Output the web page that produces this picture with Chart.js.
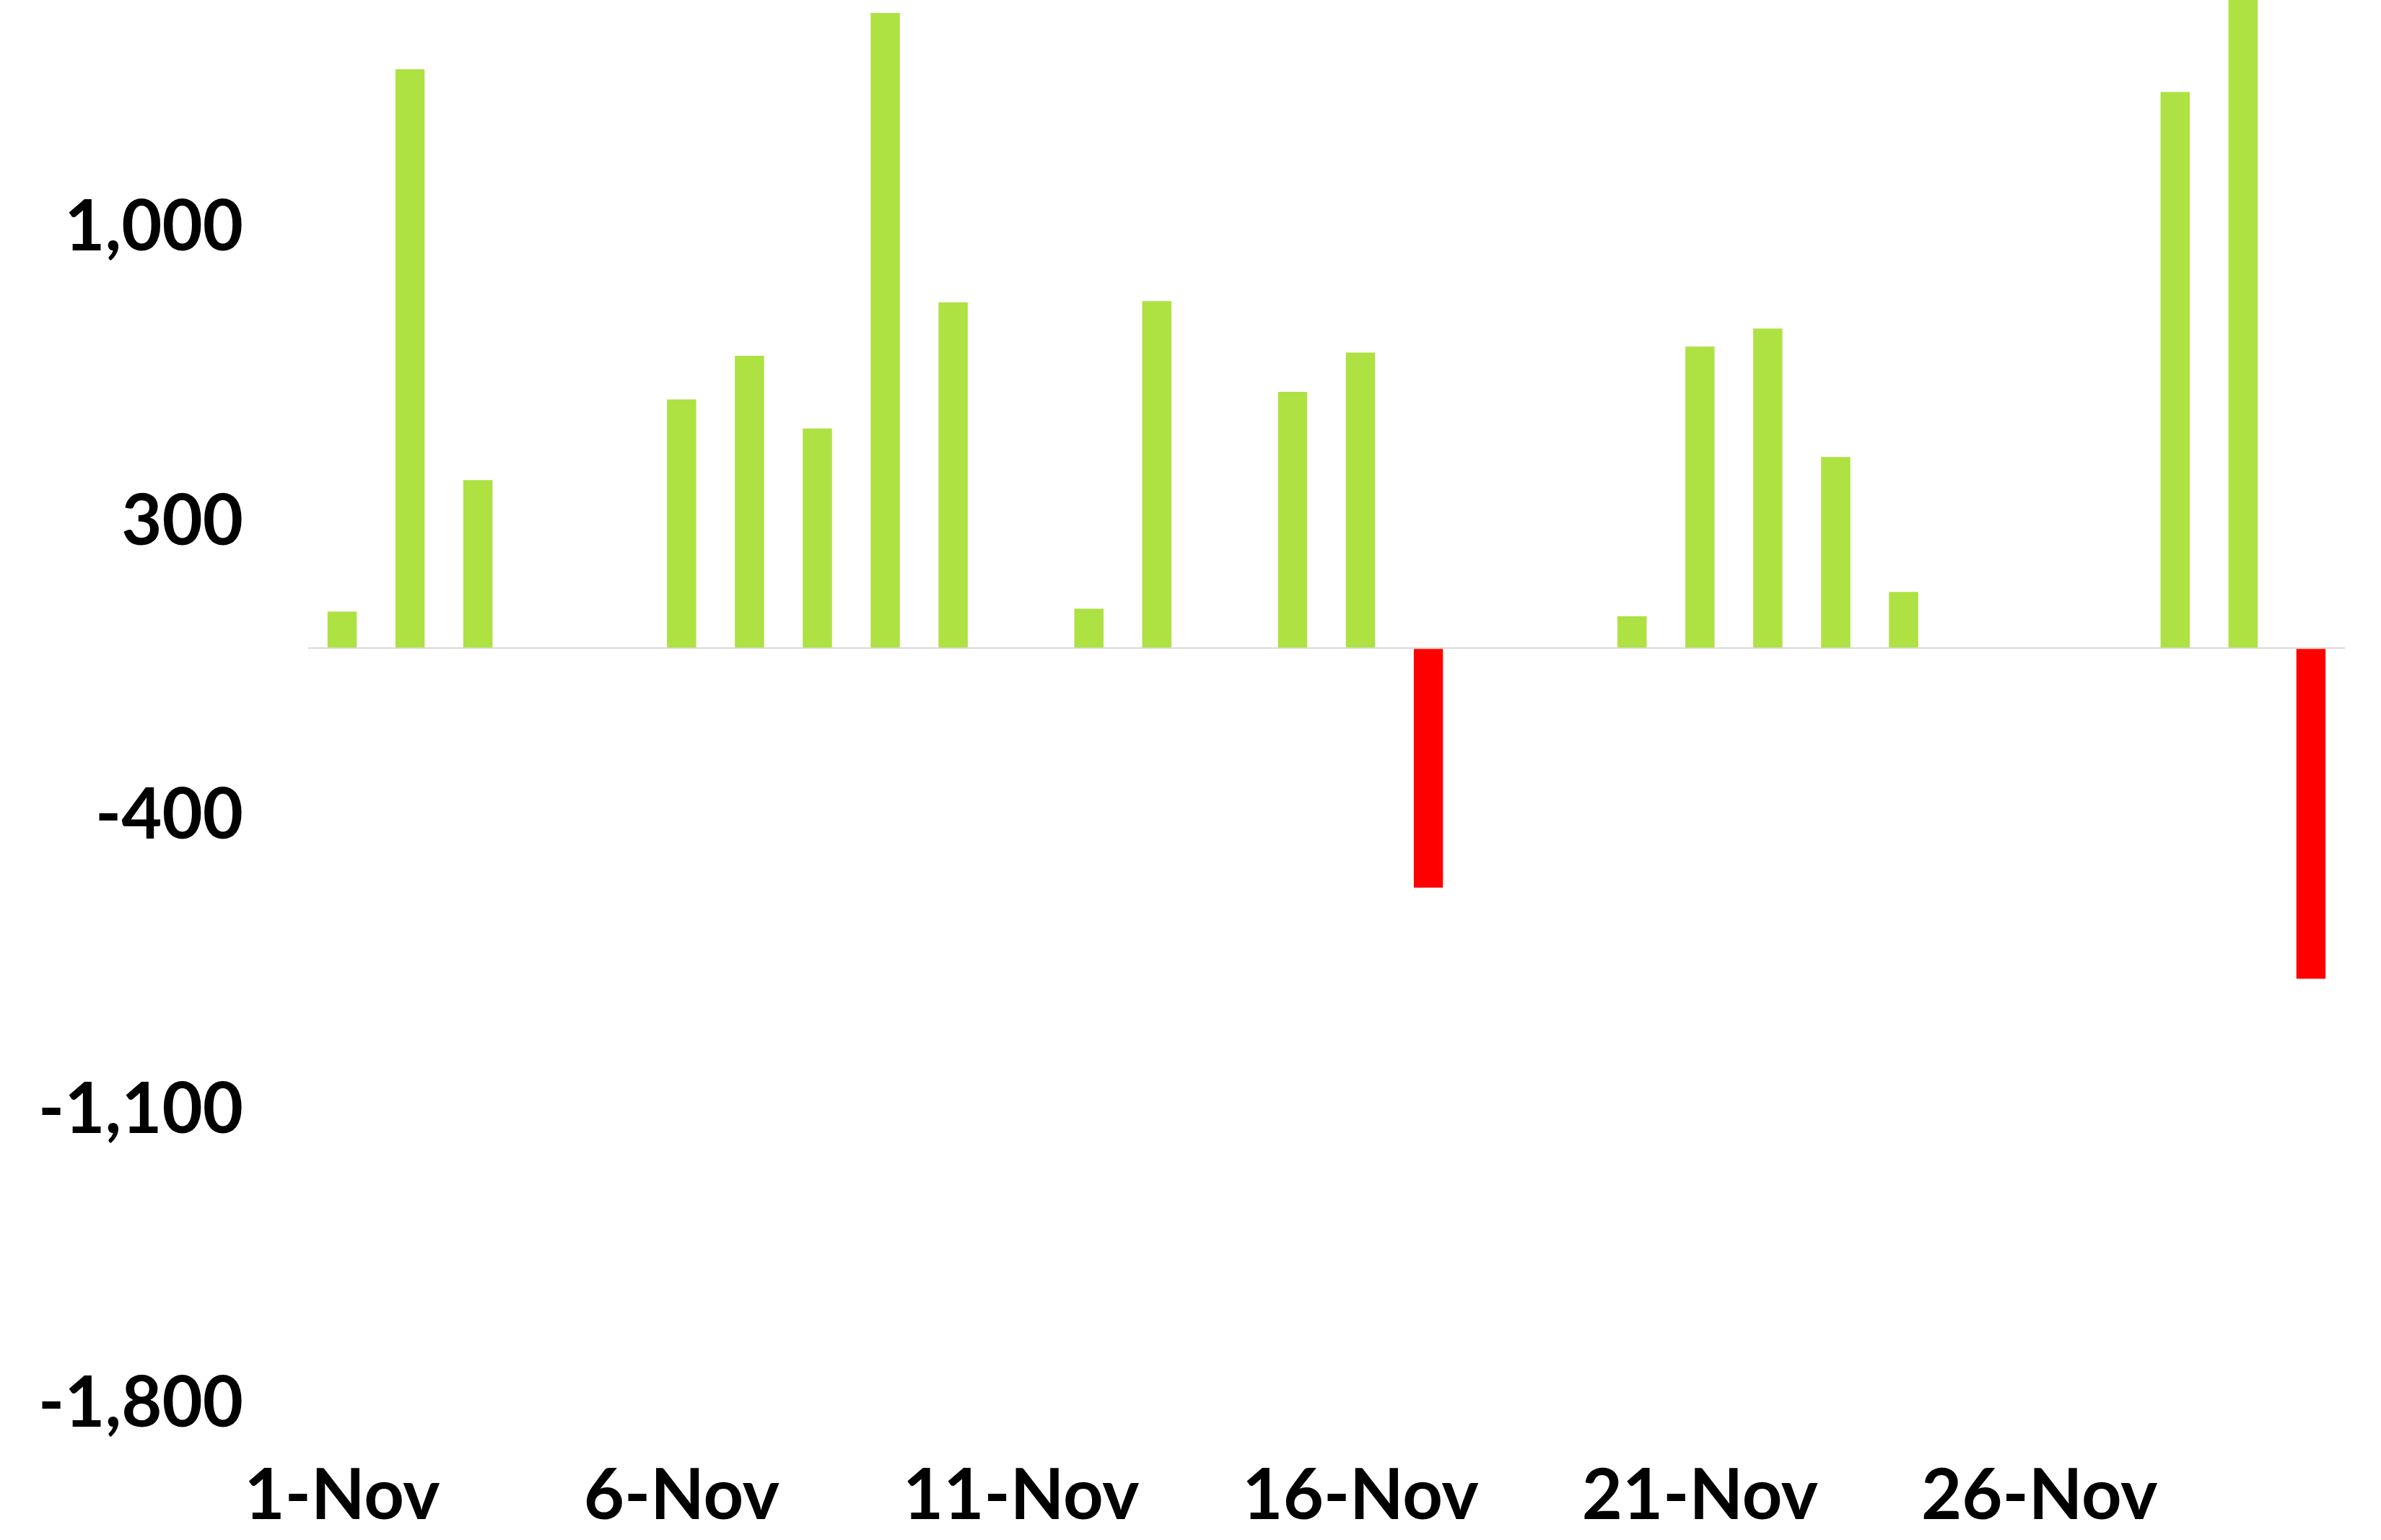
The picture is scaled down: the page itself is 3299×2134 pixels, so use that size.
<!DOCTYPE html>
<html>
<head>
<meta charset="utf-8">
<script src="https://cdn.jsdelivr.net/npm/chart.js@4/dist/chart.umd.min.js"></script>
<style>
  html, body { margin: 0; padding: 0; background: #fff; }
  #wrap { width: 3299px; height: 2134px; }
</style>
</head>
<body>
<div id="wrap"><canvas id="c" width="3299" height="2134"></canvas></div>
<script>
// Days of November
var days = [];
for (var d = 1; d <= 30; d++) days.push(d + '-Nov');

// Daily values
var values = [
    87, 1378, 400, 0, 0,
    592, 696, 523, 1512, 823,
    0, 94, 826, 0, 610,
    704, -570, 0, 0, 76,
    718, 761, 455, 134, 0,
    0, 0, 1324, 1600, -787
];

// Y tick labels shown on the axis
var yTicks = [-1800, -1100, -400, 300, 1000];

var green = '#aee142';
var red = '#ff0000';
var font = { family: 'Lato', weight: 'bold', size: 97 };

var ctx = document.getElementById('c').getContext('2d');
var chart = new Chart(ctx, {
    type: 'bar',
    data: {
        labels: days,
        datasets: [{
            data: values,
            backgroundColor: values.map(v => v < 0 ? red : green),
            barPercentage: 0.43,
            categoryPercentage: 1
        }]
    },
    options: {
        responsive: false,
        animation: false,
        layout: { padding: { top: 0, right: 50, left: 0, bottom: 0 } },
        plugins: {
            legend: { display: false },
            tooltip: { enabled: false }
        },
        scales: {
            x: {
                grid: { display: false },
                border: { display: false },
                ticks: {
                    color: '#000',
                    font: font,
                    autoSkip: false,
                    maxRotation: 0,
                    padding: 62,
                    callback: function (val, i) {
                        return i % 5 === 0 ? days[i] : '';
                    }
                },
                afterFit: function (s) {
                    s.height = 188;
                    s.paddingLeft = 0;
                    s.paddingRight = 0;
                }
            },
            y: {
                min: -1800,
                max: 1543,
                border: { display: false },
                grid: {
                    drawTicks: false,
                    lineWidth: 2,
                    color: ctx => ctx.tick && ctx.tick.value === 0 ? '#d9d9d9' : 'rgba(0,0,0,0)'
                },
                afterBuildTicks: function (s) {
                    s.ticks = [0].concat(yTicks).map(v => ({ value: v }));
                },
                ticks: {
                    color: '#000',
                    font: font,
                    padding: 90,
                    callback: function (v) {
                        return v === 0 ? '' : v.toLocaleString('en-US');
                    }
                },
                afterFit: function (s) {
                    s.width = 427;
                    s.paddingTop = 0;
                    s.paddingBottom = 0;
                }
            }
        }
    }
});
</script>
</body>
</html>
